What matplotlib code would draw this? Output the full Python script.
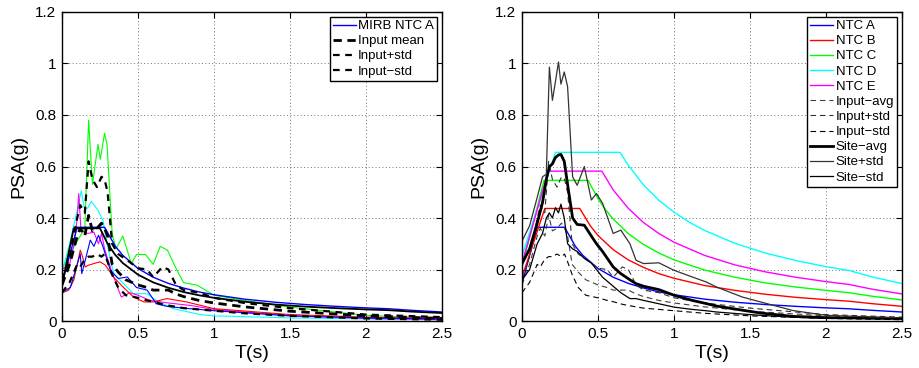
import matplotlib
matplotlib.use("Agg")
import matplotlib.pyplot as plt
from matplotlib.ticker import FuncFormatter

plt.rcParams['font.family'] = ['Liberation Sans', 'DejaVu Sans']

# ---- left panel: input records (PSA in g vs period T in s) ----
green_T = [0, 0.05, 0.1, 0.13, 0.15, 0.175, 0.2, 0.237, 0.252, 0.28, 0.296, 0.33, 0.355, 0.40,
           0.456, 0.49, 0.55, 0.60, 0.646, 0.694, 0.756, 0.80, 0.89, 1.0, 1.2, 1.5, 2.0, 2.5]
green_psa = [0.20, 0.26, 0.31, 0.34, 0.36, 0.78, 0.53, 0.686, 0.628, 0.729, 0.686, 0.34, 0.28, 0.33,
             0.223, 0.258, 0.258, 0.22, 0.29, 0.275, 0.197, 0.149, 0.139, 0.10, 0.08, 0.054, 0.022, 0.01]

cyan_T = [0, 0.05, 0.1, 0.127, 0.149, 0.17, 0.193, 0.237, 0.27, 0.296, 0.34, 0.405, 0.47, 0.56,
          0.62, 0.73, 0.91, 1.0, 1.5, 2.0, 2.5]
cyan_psa = [0.19, 0.30, 0.43, 0.506, 0.43, 0.44, 0.465, 0.43, 0.39, 0.30, 0.184, 0.145, 0.106, 0.106,
            0.08, 0.048, 0.025, 0.02, 0.012, 0.008, 0.005]

magenta_T = [0, 0.05, 0.08, 0.1, 0.11, 0.125, 0.17, 0.21, 0.24, 0.26, 0.28, 0.324, 0.39, 0.445,
             0.5, 0.58, 0.7, 0.85, 1.0, 1.5, 2.0, 2.5]
magenta_psa = [0.20, 0.22, 0.30, 0.40, 0.495, 0.35, 0.34, 0.345, 0.30, 0.34, 0.28, 0.197, 0.093, 0.11,
               0.10, 0.08, 0.07, 0.06, 0.045, 0.02, 0.01, 0.005]

red_T = [0, 0.044, 0.077, 0.1, 0.12, 0.135, 0.153, 0.175, 0.25, 0.285, 0.34, 0.405, 0.47, 0.54,
         0.6, 0.69, 0.82, 1.0, 1.5, 2.0, 2.5]
red_psa = [0.109, 0.12, 0.158, 0.22, 0.275, 0.25, 0.21, 0.217, 0.23, 0.217, 0.17, 0.13, 0.093, 0.074,
           0.074, 0.087, 0.074, 0.048, 0.025, 0.015, 0.01]

blue_T = [0, 0.055, 0.1, 0.12, 0.13, 0.153, 0.186, 0.21, 0.24, 0.27, 0.318, 0.37, 0.43, 0.49,
          0.56, 0.62, 0.69, 0.8, 1.0, 1.5, 2.0, 2.5]
blue_psa = [0.112, 0.13, 0.22, 0.26, 0.184, 0.236, 0.314, 0.29, 0.333, 0.288, 0.197, 0.165, 0.171, 0.13,
            0.12, 0.067, 0.057, 0.05, 0.04, 0.02, 0.012, 0.008]

# input statistics (same curves appear in both panels)
inp_T = [0, 0.05, 0.1, 0.12, 0.15, 0.175, 0.2, 0.23, 0.26, 0.28, 0.30, 0.33, 0.37, 0.42, 0.5,
         0.56, 0.6, 0.66, 0.7, 0.75, 0.8, 0.9, 1.0, 1.2, 1.5, 2.0, 2.5]
inp_plus = [0.16, 0.25, 0.40, 0.45, 0.42, 0.62, 0.55, 0.52, 0.56, 0.55, 0.50, 0.30, 0.26, 0.24, 0.205,
            0.20, 0.17, 0.21, 0.20, 0.14, 0.12, 0.11, 0.09, 0.07, 0.05, 0.025, 0.015]
inp_mean = [0.14, 0.22, 0.33, 0.36, 0.33, 0.41, 0.35, 0.36, 0.38, 0.36, 0.33, 0.22, 0.19, 0.16, 0.14,
            0.13, 0.12, 0.12, 0.12, 0.105, 0.095, 0.08, 0.07, 0.055, 0.038, 0.02, 0.01]
inp_minus = [0.11, 0.15, 0.22, 0.21, 0.24, 0.25, 0.25, 0.26, 0.25, 0.26, 0.23, 0.18, 0.13, 0.10, 0.09,
             0.08, 0.075, 0.065, 0.06, 0.055, 0.05, 0.045, 0.04, 0.03, 0.02, 0.01, 0.005]

# design spectra
ntcA_T = [0, 0.1, 0.28, 0.35, 0.4, 0.5, 0.6, 0.7, 0.8, 0.9, 1.0, 1.2, 1.4, 1.6, 1.8, 2.0, 2.15, 2.3, 2.5]
ntcA = [0.145, 0.364, 0.364, 0.291, 0.255, 0.204, 0.170, 0.146, 0.128, 0.113, 0.102, 0.085, 0.073,
        0.064, 0.057, 0.051, 0.0475, 0.0415, 0.035]

ref_T = [0, 0.077, 0.25, 0.3, 0.35, 0.4, 0.5, 0.6, 0.7, 0.8, 0.9, 1.0, 1.2, 1.4, 1.6, 1.8, 2.0, 2.15, 2.3, 2.5]
ref_psa = [0.14, 0.36, 0.36, 0.30, 0.257, 0.225, 0.18, 0.15, 0.129, 0.1125, 0.10, 0.09, 0.075, 0.064,
           0.056, 0.05, 0.045, 0.042, 0.0365, 0.031]

ntcB_T = [0, 0.15, 0.38, 0.45, 0.5, 0.6, 0.7, 0.8, 0.9, 1.0, 1.2, 1.4, 1.6, 1.8, 2.0, 2.15, 2.3, 2.5]
ntcB = [0.17, 0.437, 0.437, 0.369, 0.332, 0.277, 0.237, 0.208, 0.184, 0.166, 0.138, 0.119, 0.104,
        0.092, 0.083, 0.077, 0.0675, 0.057]

ntcC_T = [0, 0.145, 0.435, 0.5, 0.55, 0.6, 0.7, 0.8, 0.9, 1.0, 1.2, 1.4, 1.6, 1.8, 2.0, 2.15, 2.3, 2.5]
ntcC = [0.21, 0.546, 0.546, 0.475, 0.432, 0.396, 0.339, 0.297, 0.264, 0.2375, 0.198, 0.170, 0.148,
        0.132, 0.119, 0.110, 0.0965, 0.0817]

ntcD_T = [0, 0.22, 0.645, 0.7, 0.8, 0.9, 1.0, 1.1, 1.2, 1.4, 1.6, 1.8, 2.0, 2.15, 2.3, 2.5]
ntcD = [0.252, 0.655, 0.655, 0.604, 0.528, 0.469, 0.4225, 0.384, 0.352, 0.302, 0.264, 0.235, 0.211,
        0.1965, 0.1717, 0.1453]

ntcE_T = [0, 0.172, 0.525, 0.6, 0.7, 0.8, 0.9, 1.0, 1.2, 1.4, 1.6, 1.8, 2.0, 2.15, 2.3, 2.5]
ntcE = [0.224, 0.582, 0.582, 0.509, 0.437, 0.382, 0.340, 0.306, 0.255, 0.218, 0.191, 0.170, 0.153,
        0.142, 0.124, 0.105]

# site response statistics
site_T = [0, 0.05, 0.1, 0.135, 0.16, 0.18, 0.2, 0.22, 0.24, 0.256, 0.278, 0.30, 0.333, 0.363, 0.41,
          0.456, 0.49, 0.53, 0.6, 0.65, 0.71, 0.75, 0.8, 0.9, 1.0, 1.12, 1.21, 1.28, 1.45, 1.57,
          1.78, 2.0, 2.5]
site_plus = [0.31, 0.37, 0.48, 0.56, 0.57, 0.986, 0.857, 0.93, 1.006, 0.92, 0.967, 0.91, 0.56, 0.527,
             0.60, 0.47, 0.495, 0.457, 0.34, 0.353, 0.30, 0.236, 0.223, 0.226, 0.197, 0.171, 0.152,
             0.132, 0.093, 0.074, 0.041, 0.022, 0.012]
site_avg = [0.223, 0.28, 0.38, 0.46, 0.55, 0.60, 0.61, 0.635, 0.645, 0.647, 0.62, 0.53, 0.40, 0.375,
            0.372, 0.33, 0.30, 0.27, 0.21, 0.184, 0.16, 0.145, 0.135, 0.122, 0.10, 0.08, 0.068,
            0.058, 0.042, 0.031, 0.018, 0.013, 0.01]
site_minus = [0.16, 0.20, 0.30, 0.34, 0.40, 0.42, 0.40, 0.44, 0.42, 0.454, 0.40, 0.30, 0.28, 0.27,
              0.243, 0.225, 0.20, 0.17, 0.135, 0.11, 0.087, 0.087, 0.08, 0.067, 0.054, 0.045, 0.04,
              0.035, 0.027, 0.022, 0.015, 0.011, 0.008]

xticks = [0, 0.5, 1, 1.5, 2, 2.5]
yticks = [0, 0.2, 0.4, 0.6, 0.8, 1, 1.2]

fig = plt.figure(figsize=(9.2, 3.68), dpi=100)
ax1 = fig.add_axes([0.0674, 0.1277, 0.413, 0.8397])
ax2 = fig.add_axes([0.5674, 0.1277, 0.413, 0.8397])

thin = 0.8
ax1.plot(green_T, green_psa, color='#00ff00', lw=thin)
ax1.plot(cyan_T, cyan_psa, color='#00ffff', lw=thin)
ax1.plot(magenta_T, magenta_psa, color='#ff00ff', lw=thin)
ax1.plot(red_T, red_psa, color='#ff0000', lw=thin)
ax1.plot(blue_T, blue_psa, color='#0000ff', lw=thin)
ax1.plot(ntcA_T, ntcA, color='#0000ff', lw=1.0, label='MIRB NTC A')
ax1.plot(inp_T, inp_mean, color='k', lw=2.0, dashes=(3, 2), label='Input mean')
ax1.plot(inp_T, inp_plus, color='k', lw=1.6, dashes=(3, 2.5), label='Input+std')
ax1.plot(inp_T, inp_minus, color='k', lw=1.6, dashes=(3, 2.5), label='Input\u2212std')
ax1.plot(ref_T, ref_psa, color='k', lw=1.3)

ax2.plot(ntcA_T, ntcA, color='#0000ff', lw=1.0, label='NTC A')
ax2.plot(ntcB_T, ntcB, color='#ff0000', lw=1.0, label='NTC B')
ax2.plot(ntcC_T, ntcC, color='#00ff00', lw=1.0, label='NTC C')
ax2.plot(ntcD_T, ntcD, color='#00ffff', lw=1.0, label='NTC D')
ax2.plot(ntcE_T, ntcE, color='#ff00ff', lw=1.0, label='NTC E')
ax2.plot(inp_T, inp_mean, color='0.25', lw=0.8, dashes=(5, 3.5), label='Input\u2212avg')
ax2.plot(inp_T, inp_plus, color='0.2', lw=0.8, dashes=(5, 3.5), label='Input+std')
ax2.plot(inp_T, inp_minus, color='k', lw=0.8, dashes=(5, 3.5), label='Input\u2212std')
ax2.plot(site_T, site_avg, color='k', lw=2.0, label='Site\u2212avg')
ax2.plot(site_T, site_plus, color='0.2', lw=0.9, label='Site+std')
ax2.plot(site_T, site_minus, color='k', lw=0.9, label='Site\u2212std')

fmt = FuncFormatter(lambda v, p: '%g' % v)
for ax in (ax1, ax2):
    ax.set_xlim(0, 2.5)
    ax.set_ylim(0, 1.2)
    ax.set_xticks(xticks)
    ax.set_yticks(yticks)
    ax.xaxis.set_major_formatter(fmt)
    ax.yaxis.set_major_formatter(fmt)
    ax.tick_params(direction='in', top=True, right=True, length=4, labelsize=11, pad=4)
    ax.grid(True, linestyle=(0, (1, 2.5)), color='0.45', linewidth=0.7)
    for s in ax.spines.values():
        s.set_linewidth(1.0)
    ax.set_xlabel('T(s)', fontsize=14, labelpad=3)
    ax.set_ylabel('PSA(g)', fontsize=14, labelpad=6)
    leg = ax.legend(loc='upper right', fontsize=9.5, handlelength=1.7, handletextpad=0.2,
                    labelspacing=0.22, borderpad=0.25, borderaxespad=0.35, fancybox=False,
                    framealpha=1, edgecolor='k')
    leg.get_frame().set_linewidth(1.0)

fig.savefig('out.png', dpi=100)
